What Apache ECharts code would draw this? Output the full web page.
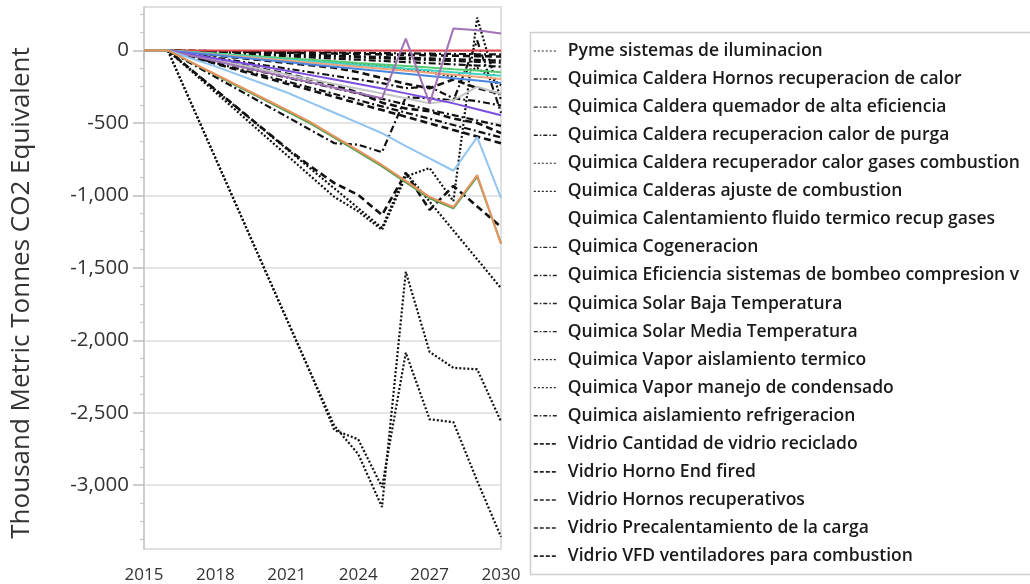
<!DOCTYPE html>
<html>
<head>
<meta charset="utf-8">
<script src="https://cdn.jsdelivr.net/npm/echarts@6/dist/echarts.min.js"></script>
<style>
html,body{margin:0;padding:0;background:#fff;}
#chart{width:1030px;height:584px;}
</style>
</head>
<body>
<div id="chart"></div>
<script>
// ---------- DATA ----------
const years = ['2015','2016','2017','2018','2019','2020','2021','2022','2023','2024','2025','2026','2027','2028','2029','2030'];

const yMajorTicks = [0,-500,-1000,-1500,-2000,-2500,-3000];
const yMinorTicks = [250,125,-125,-250,-375,-625,-750,-875,-1125,-1250,-1375,-1625,-1750,-1875,-2125,-2250,-2375,-2625,-2750,-2875,-3125,-3250,-3375];

// legend series (black)
const pymeIluminacion      = [0,0,-12,-24,-36,-48,-60,-72,-84,-96,-108,-130,-150,-180,-120,-240];
const hornosRecuperacion   = [0,0,-37,-74,-111,-149,-186,-223,-260,-297,-334,-372,-409,-446,-483,-520];
const quemadorAlta         = [0,0,-2,-4,-6,-8,-10,-12,-14,-16,-18,-20,-22,-24,-26,-28];
const recupCalorPurga      = [0,0,-5,-10,-15,-20,-25,-30,-35,-40,-45,-50,-55,-60,-65,-70];
const recupGasesComb       = [0,0,-136,-272,-408,-544,-680,-816,-952,-1088,-1224,-844,-1043,-1242,-1441,-1640];
const ajusteCombustion     = [0,0,-144,-289,-433,-578,-722,-867,-1011,-1110,-1238,-870,-811,-1040,227,-344];
const calentamientoFluido  = [0,0,0,0,0,0,0,0,0,0,0,0,0,0,0,0];
const cogeneracion         = [0,0,-91,-183,-274,-366,-457,-549,-640,-650,-702,-323,-330,-344,69,-430];
const eficienciaBombeo     = [0,0,-25,-50,-75,-100,-125,-150,-175,-200,-225,-260,-250,-330,-350,-380];
const solarBaja            = [0,0,-8,-16,-24,-32,-40,-48,-56,-64,-72,-80,-88,-96,-104,-112];
const solarMedia           = [0,0,-6,-12,-18,-24,-30,-36,-42,-48,-54,-60,-66,-72,-78,-84];
const vaporAislamiento     = [0,0,-371,-742,-1113,-1484,-1855,-2226,-2620,-2683,-3013,-2085,-2545,-2565,-2970,-3356];
const vaporCondensado      = [0,0,-371,-742,-1113,-1484,-1855,-2226,-2590,-2785,-3150,-1527,-2080,-2190,-2200,-2560];
const aislamientoRefrig    = [0,0,-43,-86,-129,-171,-214,-257,-300,-343,-386,-429,-471,-514,-557,-600];
const vidrioReciclado      = [0,0,-46,-91,-137,-183,-229,-274,-320,-366,-411,-457,-503,-549,-594,-640];
const vidrioEndFired       = [0,0,-32,-64,-96,-128,-160,-200,-240,-290,-360,-400,-420,-470,-500,-570];
const vidrioRecuperativos  = [0,0,-135,-270,-405,-540,-675,-800,-915,-997,-1135,-846,-1100,-935,-1076,-1217];
const vidrioPrecalent      = [0,0,-17,-34,-51,-68,-85,-102,-119,-150,-190,-230,-260,-200,-260,-300];
const vidrioVFD            = [0,0,-3,-6,-9,-12,-15,-18,-21,-24,-27,-30,-33,-36,-39,-42];

// other (coloured) series, not listed in legend
const redLine        = [0,0,0,0,0,0,0,0,0,0,0,0,0,0,0,0];
const greenLine      = [0,0,-11,-21,-32,-43,-54,-64,-75,-86,-96,-107,-118,-129,-139,-150];
const cyanLine       = [0,0,-12,-25,-37,-50,-62,-75,-87,-100,-112,-125,-137,-150,-162,-175];
const lightOrange    = [0,0,-14,-28,-42,-56,-70,-84,-98,-112,-126,-140,-154,-168,-182,-196];
const blueLine       = [0,0,-16,-32,-48,-64,-80,-96,-112,-128,-144,-160,-176,-192,-208,-225];
const violetLine     = [0,0,-27,-55,-83,-111,-140,-170,-200,-231,-263,-296,-330,-365,-405,-447];
const mauveLine      = [0,0,-37,-73,-110,-147,-183,-220,-257,-293,-330,82,-365,151,140,117];
const grayLine       = [0,0,-33,-66,-99,-132,-165,-198,-231,-264,-297,-330,-365,-344,-250,-300];
const lightBlueLine  = [0,0,-55,-110,-170,-230,-290,-360,-430,-500,-571,-660,-745,-830,-598,-1018];
const orangeLine     = [0,0,-82,-164,-246,-328,-410,-495,-592,-690,-790,-900,-1010,-1080,-860,-1335];
const darkGreenLine  = [0,0,-84,-168,-252,-336,-420,-505,-602,-700,-800,-910,-1020,-1090,-870,-1330];

// ---------- STYLES ----------
const DOT = [2,2], DASHDOT = [7,3,2,3], DASH = [7,4];
const LDOT = [2,2], LDASHDOT = [4,2,1.5,2], LDASH = [4,2];

const legendSeries = [
  ['Pyme sistemas de iluminacion', pymeIluminacion, 'dot'],
  ['Quimica Caldera Hornos recuperacion de calor', hornosRecuperacion, 'dashdot'],
  ['Quimica Caldera quemador de alta eficiencia', quemadorAlta, 'dashdot'],
  ['Quimica Caldera recuperacion calor de purga', recupCalorPurga, 'dashdot'],
  ['Quimica Caldera recuperador calor gases combustion', recupGasesComb, 'dot'],
  ['Quimica Calderas ajuste de combustion', ajusteCombustion, 'dot'],
  ['Quimica Calentamiento fluido termico recup gases', calentamientoFluido, 'none'],
  ['Quimica Cogeneracion', cogeneracion, 'dashdot'],
  ['Quimica Eficiencia sistemas de bombeo compresion v', eficienciaBombeo, 'dashdot'],
  ['Quimica Solar Baja Temperatura', solarBaja, 'dashdot'],
  ['Quimica Solar Media Temperatura', solarMedia, 'dashdot'],
  ['Quimica Vapor aislamiento termico', vaporAislamiento, 'dot'],
  ['Quimica Vapor manejo de condensado', vaporCondensado, 'dot'],
  ['Quimica aislamiento refrigeracion', aislamientoRefrig, 'dashdot'],
  ['Vidrio Cantidad de vidrio reciclado', vidrioReciclado, 'dash'],
  ['Vidrio Horno End fired', vidrioEndFired, 'dash'],
  ['Vidrio Hornos recuperativos', vidrioRecuperativos, 'dash'],
  ['Vidrio Precalentamiento de la carga', vidrioPrecalent, 'dash'],
  ['Vidrio VFD ventiladores para combustion', vidrioVFD, 'dash']
];

const colouredSeries = [
  ['s_red', redLine, '#e2474d'],
  ['s_green', greenLine, '#55c96e'],
  ['s_cyan', cyanLine, '#40d4c2'],
  ['s_lorange', lightOrange, '#f0a57a'],
  ['s_blue', blueLine, '#4a86e0'],
  ['s_gray', grayLine, '#c4c4c4'],
  ['s_violet', violetLine, '#7a4fe0'],
  ['s_mauve', mauveLine, '#a272b6'],
  ['s_lightblue', lightBlueLine, '#90c3ef'],
  ['s_dgreen', darkGreenLine, '#58a050'],
  ['s_orange', orangeLine, '#e8935f']
];

function styleFor(kind){
  if (kind === 'dot') return {type: DOT, width: 2.2, color: '#111'};
  if (kind === 'dashdot') return {type: DASHDOT, width: 2.2, color: '#111'};
  if (kind === 'dash') return {type: DASH, width: 2.6, color: '#111'};
  return {type: 'solid', width: 1, color: '#111', opacity: 0};
}
function legendStyleFor(kind){
  if (kind === 'dot') return {type: LDOT, width: 1.2, color: '#222'};
  if (kind === 'dashdot') return {type: LDASHDOT, width: 1.4, color: '#222'};
  if (kind === 'dash') return {type: LDASH, width: 1.6, color: '#222'};
  return {type: 'solid', width: 1, color: '#fff', opacity: 0};
}

const series = [];
legendSeries.forEach(([name, data, kind]) => {
  series.push({
    name, type: 'line', data, symbol: 'none', silent: true,
    lineStyle: styleFor(kind), itemStyle: {color: '#111'}, z: 2
  });
});
colouredSeries.forEach(([name, data, color]) => {
  series.push({
    name, type: 'line', data, symbol: 'none', silent: true,
    lineStyle: {type: 'solid', width: 2, color}, itemStyle: {color}, z: 3
  });
});

const chart = echarts.init(document.getElementById('chart'), null, {renderer: 'canvas'});
chart.setOption({
  animation: false,
  backgroundColor: '#fff',
  grid: {left: 144, top: 7, width: 357, height: 543, show: true, borderColor: '#d6d6d6', borderWidth: 1.5, backgroundColor: 'transparent'},
  legend: {
    orient: 'vertical', left: 533, top: 41, padding: 0,
    itemWidth: 24, itemHeight: 14, itemGap: 8.06,
    selectedMode: false,
    data: legendSeries.map(([name, , kind]) => ({name, lineStyle: legendStyleFor(kind), itemStyle: {opacity: 0}})),
    textStyle: {fontFamily: 'Open Sans', fontWeight: 600, fontSize: 17.5, color: '#1a1a1a', lineHeight: 20, padding: [0,0,0,5]}
  },
  graphic: [{
    type: 'rect', left: 528, top: 30, silent: true,
    shape: {width: 520, height: 542},
    style: {fill: 'none', stroke: '#cfcfcf', lineWidth: 1.5}
  }],
  xAxis: {
    type: 'category', data: years, boundaryGap: false,
    axisLine: {lineStyle: {color: '#c8c8c8', width: 1.5}},
    axisTick: {interval: 2, length: 9, lineStyle: {color: '#bdbdbd', width: 1.5}},
    axisLabel: {interval: 2, margin: 18, fontFamily: 'Open Sans', fontSize: 17, color: '#333'},
    splitLine: {show: false}
  },
  yAxis: [{
    type: 'value', min: -3440, max: 300,
    name: 'Thousand Metric Tonnes CO2 Equivalent',
    nameLocation: 'middle', nameGap: 109,
    nameTextStyle: {fontFamily: 'Open Sans', fontSize: 26, color: '#333', padding: [0,30,0,0]},
    axisLine: {show: true, lineStyle: {color: '#c8c8c8', width: 1.5}},
    axisTick: {show: true, customValues: yMajorTicks, length: 11, lineStyle: {color: '#bdbdbd', width: 1.5}},
    axisLabel: {customValues: yMajorTicks, margin: 15, fontFamily: 'Open Sans', fontSize: 20.5, color: '#333',
      formatter: v => Number(v).toLocaleString('en-US')},
    splitLine: {show: true, lineStyle: {color: '#dcdcdc', width: 1.5}}
  }, {
    type: 'value', min: -3440, max: 300, position: 'left',
    axisLine: {show: false},
    axisTick: {show: true, customValues: yMinorTicks, length: 4, lineStyle: {color: '#c8c8c8', width: 1.2}},
    axisLabel: {show: false},
    splitLine: {show: false}
  }],
  series
});
</script>
</body>
</html>
